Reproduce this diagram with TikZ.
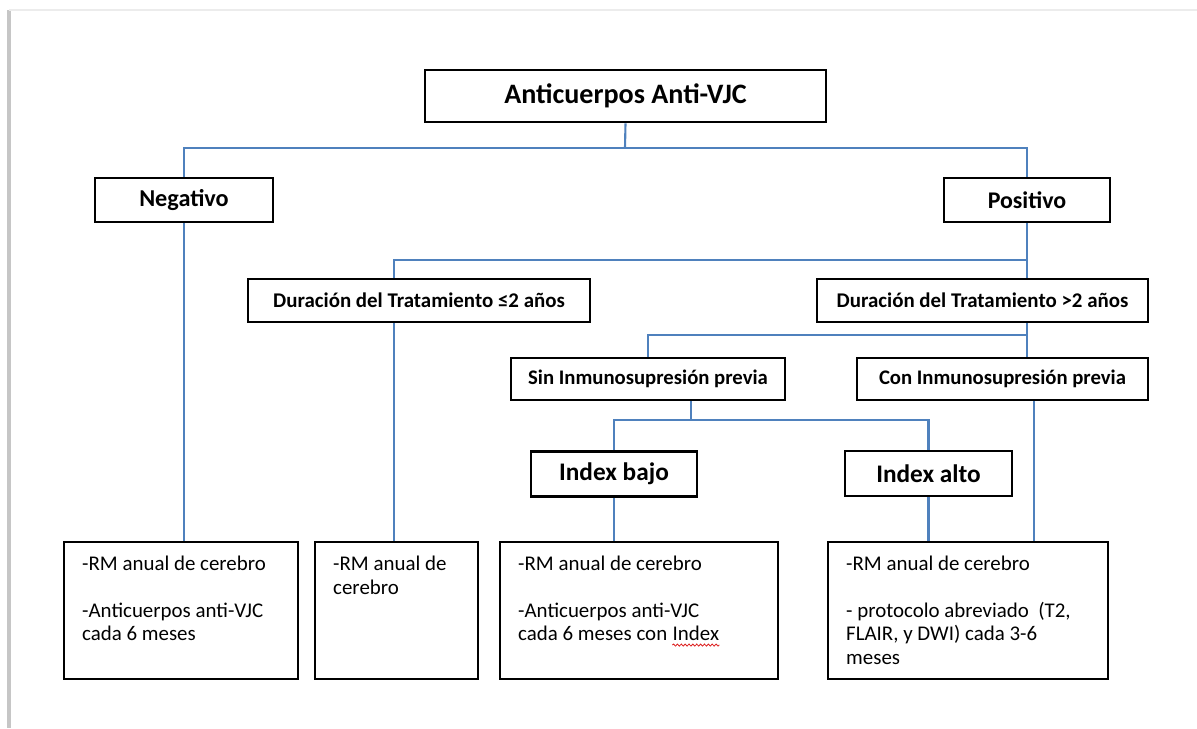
\documentclass[tikz,border=0pt]{standalone}
\usepackage{fontspec}
\setmainfont{Carlito}
\usepackage{xcolor}
\usepackage{tikz}
\usetikzlibrary{decorations.pathmorphing}
\definecolor{linkblue}{RGB}{79,129,189}
\definecolor{spell}{RGB}{220,30,30}
\newcommand{\spellmark}[1]{\tikz[baseline=(w.base), x=1cm, y=1cm]{\node[draw=none, inner sep=0pt, minimum size=0pt, anchor=base] (w) {#1};
  \draw[spell, line width=0.45pt, decorate, decoration={snake, amplitude=0.6pt, segment length=2.2pt}] ([yshift=-2.4pt]w.base west) -- ([yshift=-2.4pt]w.base east);}}
\newcommand{\resbox}[3]{\parbox[c][#2][t]{#1}{\raggedright #3}}

\tikzset{
  hdr/.style={draw, line width=1.5pt, inner sep=0pt, font=\bfseries\fontsize{11.8}{13}\selectfont},
  durtxt/.style={font=\bfseries\fontsize{11.9}{13}\selectfont},
  res/.style={draw, line width=1.4pt, anchor=north west, inner xsep=0.36cm, inner ysep=0.28cm,
    font=\fontsize{11.9}{13.3}\selectfont},
  link/.style={draw=linkblue, line width=1.2pt}
}

\begin{document}
\begin{tikzpicture}[x=0.02cm, y=-0.02cm]
          \useasboundingbox (0,0) rectangle (1197,728);
          \draw[gray!45, line width=2.2pt] (9,10) -- (9,728);
          \draw[gray!15, line width=1.6pt] (9,10) -- (1197,10);

          \node[hdr, minimum width=8.02cm, minimum height=1.04cm, font=\bfseries\fontsize{16}{18}\selectfont] (top) at (625.5,96) {Anticuerpos Anti-VJC};
          \node[hdr, minimum width=3.56cm, minimum height=0.88cm, font=\bfseries\fontsize{13.8}{15}\selectfont] (neg) at (184,200) {Negativo};
          \node[hdr, minimum width=3.32cm, minimum height=0.88cm, font=\bfseries\fontsize{13.6}{15}\selectfont] (pos) at (1027,200) {Positivo};

          \node[hdr, durtxt, minimum width=6.84cm, minimum height=0.86cm] (dur1) at (419,300.5) {Duración del Tratamiento ≤2 años\hspace{0.28cm}};
          \node[hdr, durtxt, minimum width=6.62cm, minimum height=0.86cm] (dur2) at (982.5,300.5) {Duración del Tratamiento >2 años\hspace{0.14cm}};

          \node[hdr, minimum width=5.48cm, minimum height=0.84cm] (sin) at (648,379) {Sin Inmunosupresión previa};
          \node[hdr, minimum width=5.82cm, minimum height=0.84cm] (con) at (1002.5,379) {Con Inmunosupresión previa};

          \node[hdr, minimum width=3.32cm, minimum height=0.9cm, font=\bfseries\fontsize{14.4}{16}\selectfont] (ib) at (614,474) {Index bajo};
          \node[hdr, minimum width=3.34cm, minimum height=0.9cm, font=\bfseries\fontsize{14.4}{16}\selectfont] (ia) at (928.5,473.5) {Index alto};

          \node[res] (r1) at (63,541) {\resbox{3.96cm}{2.18cm}{-RM anual de cerebro\\[\baselineskip]-Anticuerpos anti-VJC\\cada 6 meses}};
          \node[res] (r2) at (314,541) {\resbox{2.54cm}{2.18cm}{-RM anual de\\cerebro}};
          \node[res] (r3) at (499,541) {\resbox{4.84cm}{2.18cm}{-RM anual de cerebro\\[\baselineskip]-Anticuerpos anti-VJC\\cada 6 meses con \spellmark{Index}}};
          \node[res] (r4) at (827,541) {\resbox{4.88cm}{2.18cm}{-RM anual de cerebro\\[\baselineskip]- protocolo abreviado\ \ (T2,\\FLAIR, y DWI) cada 3-6\\meses}};

          \coordinate (b1) at (625,148);
          \coordinate (b2) at (394,260);
          \coordinate (b3) at (648,335);
          \coordinate (b4) at (691,420);
          \coordinate (b5) at (1034,400);

          \draw[link] (top.south) -- (b1);
          \draw[link] (neg.north) |- (b1) -| (pos.north);
          \draw[link] (pos.south) -- (pos.south |- dur2.north);
          \draw[link] (dur1.north -| b2) |- (pos.south |- b2);
          \draw[link] (dur2.south -| pos.south) -- (con.north -| pos.south);
          \draw[link] (sin.north) |- (pos.south |- b3);
          \draw[link] (sin.south -| b4) -- (b4);
          \draw[link] (ib.north) |- (b4) -| (ia.north);

          \draw[link] (neg.south) -- (neg.south |- r1.north);
          \draw[link] (dur1.south -| b2) -- (r2.north -| b2);
          \draw[link] (ib.south) -- (ib.south |- r3.north);
          \draw[link] (ia.south) -- (ia.south |- r4.north);
          \draw[link] (con.south -| b5) -- (r4.north -| b5);
        \end{tikzpicture}
\end{document}
